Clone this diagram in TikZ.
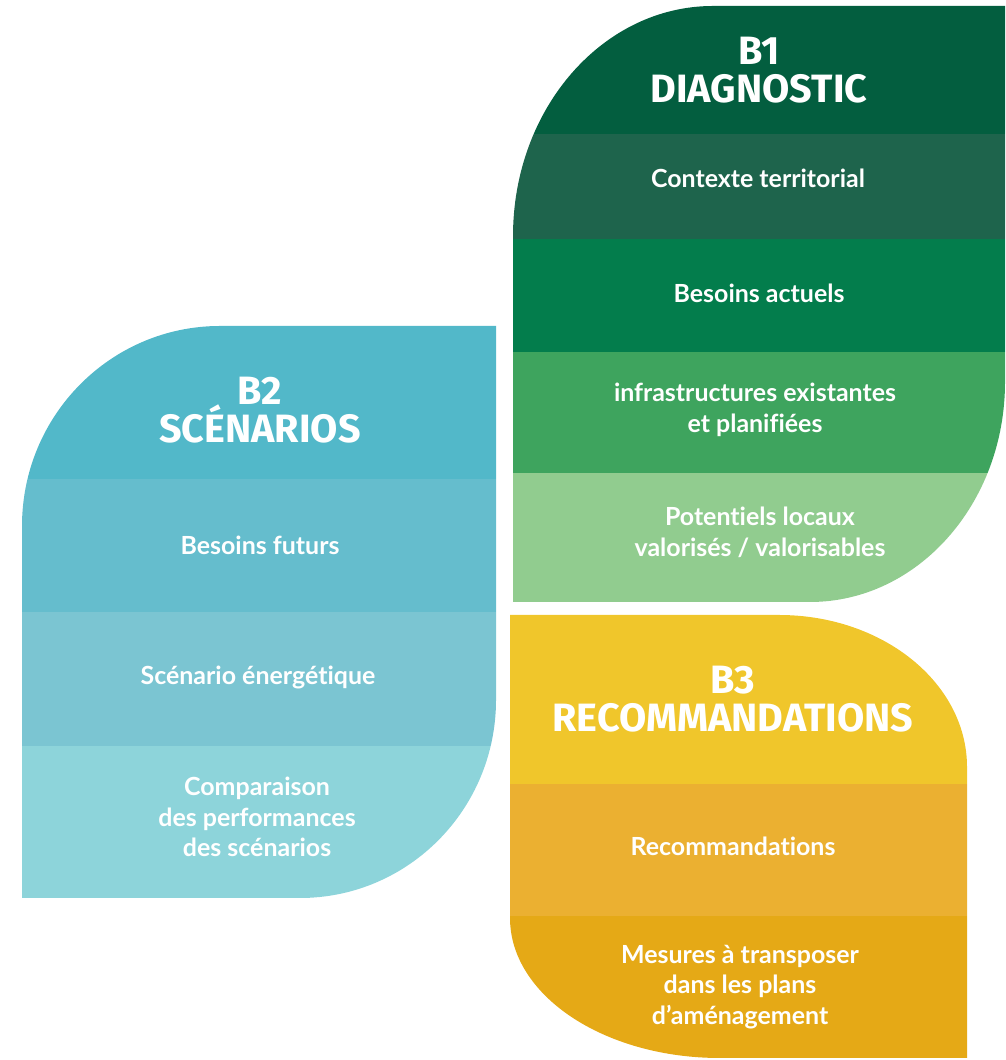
\documentclass[tikz,border=0pt]{standalone}
\usepackage{fontspec}
\setmainfont{Lato}[Ligatures=NoCommon]
\newfontfamily\headfont{Fira Sans}
\usepackage{tikz}
\usetikzlibrary{positioning}

\definecolor{bOneHead}{HTML}{035E3F}
\definecolor{bOneA}{HTML}{1E644C}
\definecolor{bOneB}{HTML}{037D4C}
\definecolor{bOneC}{HTML}{3EA45E}
\definecolor{bOneD}{HTML}{91CC8F}
\definecolor{bTwoHead}{HTML}{52B8C9}
\definecolor{bTwoA}{HTML}{65BDCD}
\definecolor{bTwoB}{HTML}{7BC5D2}
\definecolor{bTwoC}{HTML}{8DD4DA}
\definecolor{bThreeHead}{HTML}{F0C62B}
\definecolor{bThreeA}{HTML}{EBB031}
\definecolor{bThreeB}{HTML}{E5A916}

\begin{document}
\begin{tikzpicture}[x=0.02cm, y=0.02cm,
    head/.style={text=white, align=center, font=\headfont\bfseries\fontsize{22.5}{22}\selectfont},
    item/.style={text=white, align=center, font=\bfseries\fontsize{14.2}{17.5}\selectfont} ]

    \useasboundingbox (0,0) rectangle (1005,1060);

    %B1
    \begin{scope}
    \clip (513,458) -- (513,824) arc[start angle=180, end angle=90, x radius=200, y radius=230]
        -- (1005,1054) -- (1005,678) arc[start angle=0, end angle=-90, x radius=195, y radius=220] -- cycle;
    \fill[bOneHead] (500,926) rectangle (1010,1060);
    \fill[bOneA] (500,821) rectangle (1010,926);
    \fill[bOneB] (500,708) rectangle (1010,821);
    \fill[bOneC] (500,587) rectangle (1010,708);
    \fill[bOneD] (500,450) rectangle (1010,587);
    \end{scope}

    %B2
    \begin{scope}
    \clip (22,162) -- (22,534) arc[start angle=180, end angle=90, x radius=198, y radius=200]
        -- (496,734) -- (496,360) arc[start angle=0, end angle=-90, x radius=196, y radius=198] -- cycle;
    \fill[bTwoHead] (10,581) rectangle (500,740);
    \fill[bTwoA] (10,448) rectangle (500,581);
    \fill[bTwoB] (10,314) rectangle (500,448);
    \fill[bTwoC] (10,150) rectangle (500,314);
    \end{scope}

    %B3
    \begin{scope}
    \clip (510,142) -- (510,445) -- (779,445) arc[start angle=90, end angle=0, x radius=188, y radius=152]
        -- (967,2) -- (720,2) arc[start angle=270, end angle=180, x radius=210, y radius=140] -- cycle;
    \fill[bThreeHead] (500,276) rectangle (980,450);
    \fill[bThreeA] (500,144) rectangle (980,276);
    \fill[bThreeB] (500,0) rectangle (980,144);
    \end{scope}

    %Nodes
    \node[head] (diag) at (759,990) {B1\\DIAGNOSTIC};
    \node[item] (contexte) at (758,882) {Contexte territorial};
    \node[item] (actuels) at (759,767) {Besoins actuels};
    \node[item] (infra) at (755,650) {infrastructures existantes\\et planifiées};
    \node[item] (potentiels) at (760,528) {Potentiels locaux\\valorisés / valorisables};

    \node[head] (scen) at (260,650) {B2\\SCÉNARIOS};
    \node[item] (futurs) at (260,515) {Besoins futurs};
    \node[item] (energie) at (258,382) {Scénario énergétique};
    \node[item] (compar) at (257,243) {Comparaison\\des performances\\des scénarios};

    \node[head] (recom) at (733,361) {B3\\RECOMMANDATIONS};
    \node[item] (recos) at (733,214) {Recommandations};
    \node[item] (mesures) at (740,73) {Mesures à transposer\\dans les plans\\d’aménagement};
\end{tikzpicture}
\end{document}
